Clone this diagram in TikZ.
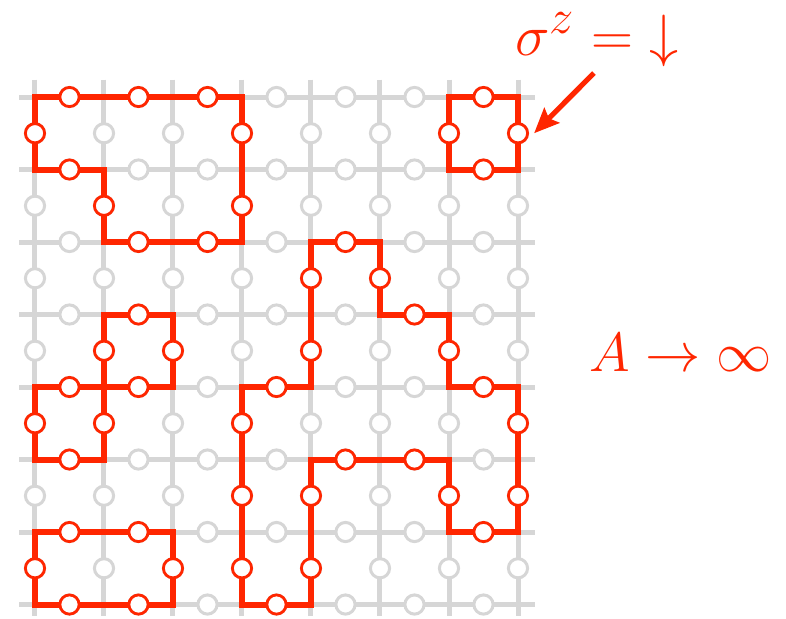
\documentclass[tikz,border=0pt]{standalone}
\usetikzlibrary{arrows.meta}
\definecolor{spin}{RGB}{255,38,0}
\definecolor{latt}{RGB}{214,214,214}

\begin{document}
\begin{tikzpicture}[x=34.5pt, y=-36.25pt,
  bond/.style={draw=latt, line width=2.5pt},
  site/.style={circle, draw=latt, fill=white, line width=1.5pt,
               minimum size=9.6pt, inner sep=0pt},
  flip/.style={site, draw=spin, line width=1.4pt},
  wall/.style={draw=spin, line width=3pt, line join=miter},
  ptr/.style={-{Stealth[length=12.5pt, width=10.5pt, inset=2pt]}, draw=spin, line width=2.6pt},
  lbl/.style={text=spin, inner sep=0pt, font=\Huge}
]
  \useasboundingbox (-0.507,-1.338) rectangle (10.884,7.186);
  % lattice
  \foreach \k in {0,...,7} {
    \draw[bond] (\k,-0.24) -- (\k,7.16);
    \draw[bond] (-0.23,\k) -- (7.25,\k);
  }
  % spins on the bonds
  \foreach \i in {0,...,6} \foreach \j in {0,...,7} \node[site] (h\i\j) at (\i+0.5,\j) {};
  \foreach \i in {0,...,7} \foreach \j in {0,...,6} \node[site] (v\i\j) at (\i,\j+0.5) {};
  % loops of flipped spins
  \draw[wall] (0,0) foreach \p in {(1,0),(2,0),(3,0),(3,1),(3,2),(2,2),(1,2),(1,1),(0,1)}
    {-- node[flip]{} \p} -- node[flip]{} cycle;
  \draw[wall] (6,0) foreach \p in {(7,0),(7,1),(6,1)} {-- node[flip]{} \p} -- node[flip]{} cycle;
  \draw[wall] (1,3) foreach \p in {(2,3),(2,4),(1,4)} {-- node[flip]{} \p} -- node[flip]{} cycle;
  \draw[wall] (0,4) foreach \p in {(1,4),(1,5),(0,5)} {-- node[flip]{} \p} -- node[flip]{} cycle;
  \draw[wall] (0,6) foreach \p in {(1,6),(2,6),(2,7),(1,7),(0,7)} {-- node[flip]{} \p} -- node[flip]{} cycle;
  \draw[wall] (3,4) foreach \p in {(4,4),(4,3),(4,2),(5,2),(5,3),(6,3),(6,4),(7,4),(7,5),(7,6),
    (6,6),(6,5),(5,5),(4,5),(4,6),(4,7),(3,7),(3,6),(3,5)} {-- node[flip]{} \p} -- node[flip]{} cycle;
  % labels
  \node[lbl, scale=1.17] (sz) at (8.14,-0.79) {$\sigma^z=\mathord{\downarrow}$};
  \node[lbl, scale=1.11] (ainf) at (9.36,3.52) {$A\to\infty$};
  \coordinate (tail) at (8.10,-0.33);
  \draw[ptr] (tail) -- ([xshift=2.5pt]v70.east);
\end{tikzpicture}
\end{document}
